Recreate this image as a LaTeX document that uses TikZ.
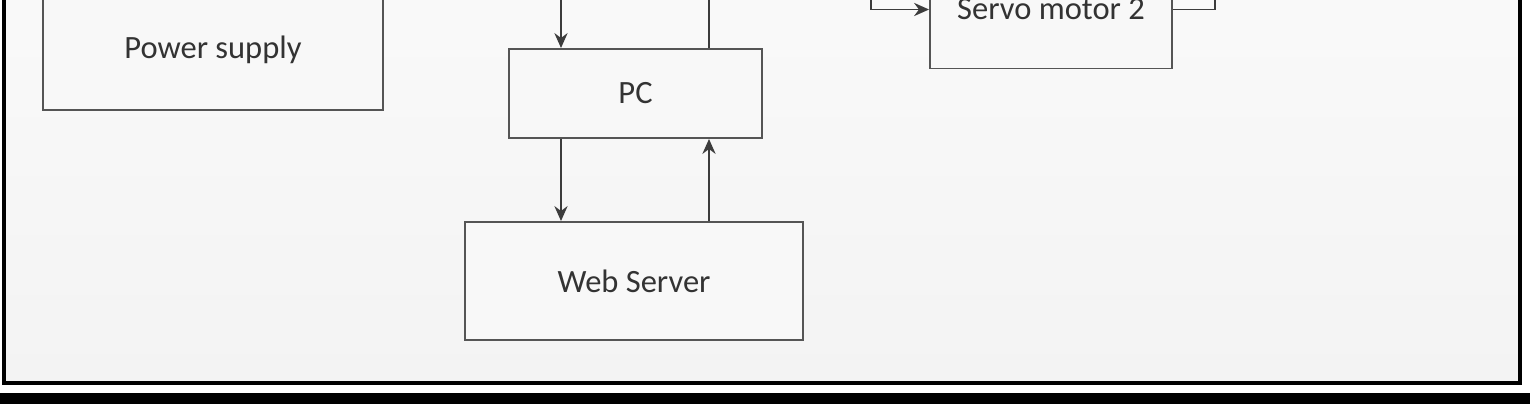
\documentclass[tikz,border=0pt]{standalone}
\usepackage{fontspec}
\setmainfont{Carlito}
\usepackage{xcolor}
\usetikzlibrary{arrows.meta, positioning, calc}
\definecolor{boxline}{RGB}{85,85,85}
\definecolor{arrline}{RGB}{60,60,60}
\definecolor{panelgray}{RGB}{243,243,243}
\definecolor{boxfill}{RGB}{248,248,248}

\begin{document}
\begin{tikzpicture}[
  block/.style={rectangle, draw=boxline, line width=1.1pt,
    fill=boxfill, align=center, text=black!80,
    font=\fontsize{18.5}{22}\selectfont},
  arr/.style={-{Stealth[length=8.5pt,width=7.5pt]},
    draw=arrline, line width=1.1pt},
  wire/.style={draw=arrline, line width=1.1pt}
]
\useasboundingbox (0,0) rectangle (30.6,8.08);
\clip (0,0) rectangle (30.6,8.08);

% Panel and bottom band
\fill[white] (0,0) rectangle (30.6,8.08);
\shade[top color=white!98!black, bottom color=panelgray]
  (0.08,0.42) rectangle (30.4,8.6);
\draw[black, line width=2.6pt] (0.08,8.6) -- (0.08,0.42)
  -- (30.4,0.42) -- (30.4,8.6);
\fill[black] (0,0) rectangle (30.6,0.22);

% Power supply
\node[block, minimum width=6.8cm, minimum height=2.4cm]
  (power) at (4.26,7.08) {Power supply};

% Servo motor 2
\node[block, minimum width=4.84cm, minimum height=2.36cm]
  (servo) at (21.02,7.89) {Servo motor 2};

% PC
\node[block, minimum width=5.06cm, minimum height=1.78cm]
  (pc) at (12.71,6.21) {PC};

% Web server
\node[block, minimum width=6.76cm, minimum height=2.36cm]
  (web) at (12.68,2.46) {Web Server};

% Free ends above the crop
\coordinate (pcin)  at (11.22,8.6);
\coordinate (pcout) at (14.18,8.6);
\coordinate (svin)  at (17.42,8.6);
\coordinate (svout) at (24.30,8.6);

% Arrows
\draw[arr] (pcin) -- (pcin |- pc.north);
\draw[wire] (pcout |- pc.north) -- (pcout);
\draw[arr] (pcin |- pc.south) -- (pcin |- web.north);
\draw[arr] (pcout |- web.north) -- (pcout |- pc.south);
\draw[arr] (svin) |- (servo.west);
\draw[wire] (servo.east) -| (svout);
\end{tikzpicture}
\end{document}
